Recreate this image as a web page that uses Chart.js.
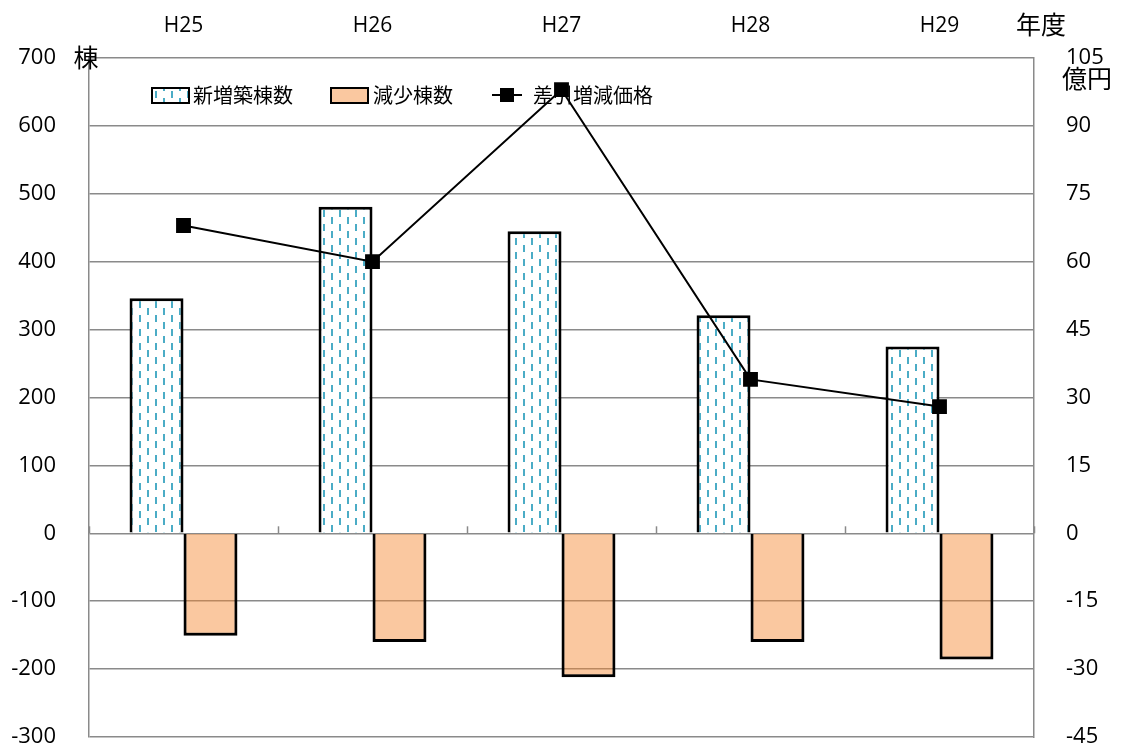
<!DOCTYPE html>
<html lang="ja">
<head>
<meta charset="utf-8">
<title>新増築棟数・減少棟数・差引増減価格</title>
<script src="https://cdn.jsdelivr.net/npm/chart.js@4"></script>
<style>
  html, body { margin: 0; padding: 0; background: #fff; }
  #wrap { width: 1121px; height: 749px; position: relative; }
</style>
</head>
<body>
<div id="wrap"><canvas id="chart"></canvas></div>
<script>
"use strict";

// ── データ ─────────────────────────────────────────────
const YEARS = ["H25", "H26", "H27", "H28", "H29"];
const NEW_BUILDINGS = [346, 481, 445, 321, 275];          // 新増築棟数（棟）
const REMOVED_BUILDINGS = [-151, -160, -212, -160, -186]; // 減少棟数（棟）
const NET_PRICE = [68, 60, 98, 34, 28];                   // 差引増減価格（億円）

const LEFT_MIN = -300, LEFT_MAX = 700, LEFT_STEP = 100;
const RIGHT_MIN = -45, RIGHT_MAX = 105, RIGHT_STEP = 15;

const FONT_LATIN = "'Open Sans', 'Liberation Sans', sans-serif";
const FONT_CJK = "'Noto Sans CJK JP', 'Noto Sans', sans-serif";
const GRID = "#8a8a8a";

// 青の破線模様（新増築棟数）
function makeDashPattern() {
  const c = document.createElement("canvas");
  c.width = 16; c.height = 14;
  const g = c.getContext("2d");
  g.fillStyle = "#fff";
  g.fillRect(0, 0, 16, 14);
  g.fillStyle = "#4bacc6";
  g.fillRect(3, 0, 2, 7);
  g.fillRect(11, 7, 2, 7);
  return g.createPattern(c, "repeat");
}

const ctx = document.getElementById("chart").getContext("2d");
const bluePattern = makeDashPattern();
const orangeFill = "rgba(245,133,44,0.45)";

// 縦軸の幅を固定し、目盛ラベルの余白が描画領域を縮めないようにする
function fixWidth(width) {
  return (s) => {
    s.width = width;
    s.paddingTop = 0;
    s.paddingBottom = 0;
  };
}

// 凡例・単位・ゼロ線の目盛（データ線の下に描く）
const decorations = {
  id: "decorations",
  beforeDatasetsDraw(chart) {
    const c = chart.ctx;
    const x = chart.scales.x;
    const y = chart.scales.y;
    c.save();

    // ゼロ線上の区切り目盛
    const y0 = y.getPixelForValue(0);
    const half = (x.getPixelForValue(1) - x.getPixelForValue(0)) / 2;
    c.strokeStyle = GRID;
    c.lineWidth = 1.5;
    for (let i = 0; i <= YEARS.length; i++) {
      const px = Math.round(x.getPixelForValue(0) - half + i * half * 2) + 0.5;
      c.beginPath();
      c.moveTo(px, y0);
      c.lineTo(px, y0 - 7);
      c.stroke();
    }

    // 凡例
    const ly = 95;
    c.textBaseline = "middle";
    c.textAlign = "left";
    c.font = "20px " + FONT_CJK;

    c.fillStyle = bluePattern;
    c.fillRect(152, 88, 37, 15);
    c.strokeStyle = "#000";
    c.lineWidth = 2;
    c.strokeRect(152, 88, 37, 15);
    c.fillStyle = "#000";
    c.fillText("新増築棟数", 193, ly);

    c.fillStyle = orangeFill;
    c.fillRect(331, 88, 37, 15);
    c.strokeRect(331, 88, 37, 15);
    c.fillStyle = "#000";
    c.fillText("減少棟数", 373, ly);

    c.beginPath();
    c.moveTo(492, ly);
    c.lineTo(522, ly);
    c.stroke();
    c.fillRect(500, ly - 7, 14, 14);
    c.fillText("差引増減価格", 533, ly);

    // 単位
    c.font = "25px " + FONT_CJK;
    c.textAlign = "center";
    c.fillText("棟", 86, 57);
    c.fillText("億円", 1087, 78);
    c.fillText("年度", 1041, 24);
    c.restore();
  },
};

new Chart(ctx, {
  data: {
    labels: YEARS,
    datasets: [
      {
        type: "line",
        label: "差引増減価格",
        data: NET_PRICE,
        yAxisID: "y2",
        borderColor: "#000",
        backgroundColor: "#000",
        borderWidth: 2,
        pointStyle: "rect",
        pointRadius: 10.5,
        pointBackgroundColor: "#000",
        pointBorderWidth: 0,
        tension: 0,
        order: 0,
      },
      {
        type: "bar",
        label: "新増築棟数",
        data: NEW_BUILDINGS,
        yAxisID: "y",
        backgroundColor: bluePattern,
        borderColor: "#000",
        borderWidth: 3,
        categoryPercentage: 0.571,
        barPercentage: 1,
        order: 1,
      },
      {
        type: "bar",
        label: "減少棟数",
        data: REMOVED_BUILDINGS,
        yAxisID: "y",
        backgroundColor: orangeFill,
        borderColor: "#000",
        borderWidth: 3,
        categoryPercentage: 0.571,
        barPercentage: 1,
        order: 2,
      },
    ],
  },
  options: {
    responsive: true,
    maintainAspectRatio: false,
    animation: false,
    layout: { padding: { top: 0, bottom: 12, left: 0, right: 0 } },
    plugins: { legend: { display: false }, tooltip: { enabled: false } },
    scales: {
      x: {
        position: "top",
        grid: { display: false, drawTicks: false },
        border: { display: false },
        ticks: { color: "#000", padding: 19, font: { family: FONT_LATIN, size: 21 } },
        afterFit(s) { s.height = 58; },
      },
      y: {
        position: "left",
        min: LEFT_MIN,
        max: LEFT_MAX,
        grid: { color: GRID, lineWidth: 1.5, drawTicks: false },
        border: { display: true, color: GRID, width: 1.5 },
        ticks: {
          stepSize: LEFT_STEP,
          color: "#000",
          padding: 33,
          font: { family: FONT_LATIN, size: 22 },
        },
        afterFit: fixWidth(89),
      },
      y2: {
        position: "right",
        min: RIGHT_MIN,
        max: RIGHT_MAX,
        grid: { drawOnChartArea: false, drawTicks: false },
        border: { display: true, color: GRID, width: 1.5 },
        ticks: {
          stepSize: RIGHT_STEP,
          color: "#000",
          padding: 32,
          font: { family: FONT_LATIN, size: 22 },
        },
        afterFit: fixWidth(87),
      },
    },
  },
  plugins: [decorations],
});
</script>
</body>
</html>
